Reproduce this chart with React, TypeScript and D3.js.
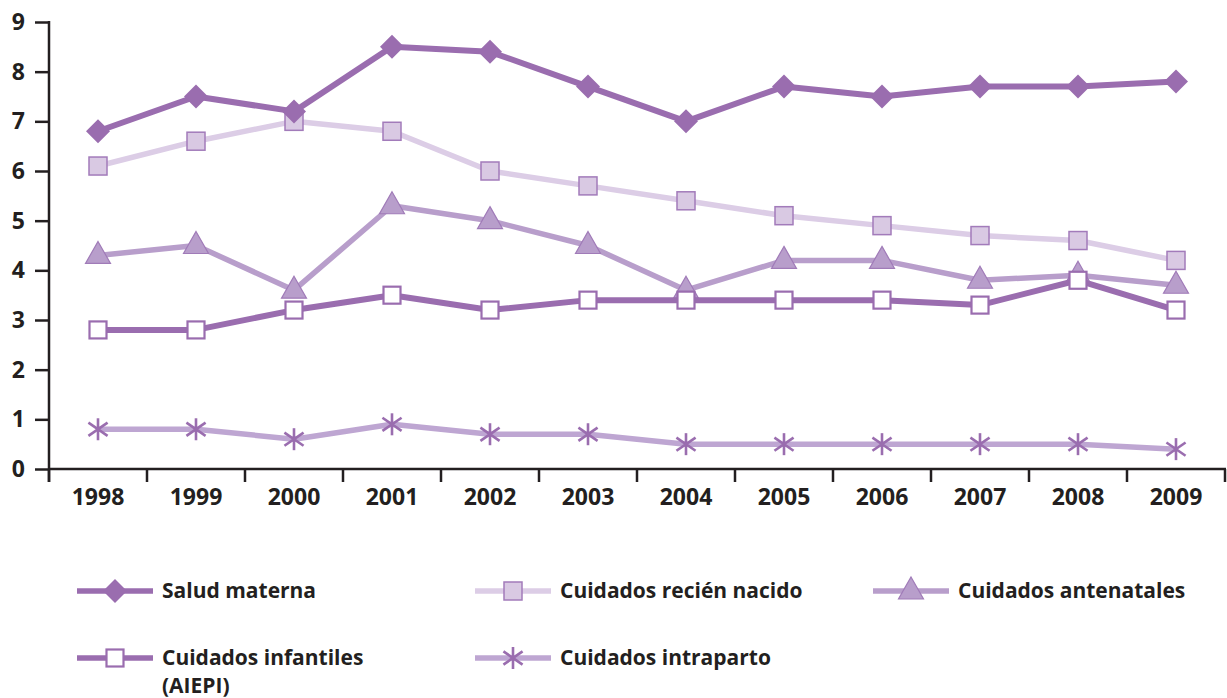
import * as d3 from "d3";
import { useEffect, useRef } from "react";

const years = ["1998", "1999", "2000", "2001", "2002", "2003", "2004", "2005", "2006", "2007", "2008", "2009"];
const saludMaterna = [6.8, 7.5, 7.2, 8.5, 8.4, 7.7, 7.0, 7.7, 7.5, 7.7, 7.7, 7.8];
const recienNacido = [6.1, 6.6, 7.0, 6.8, 6.0, 5.7, 5.4, 5.1, 4.9, 4.7, 4.6, 4.2];
const antenatales = [4.3, 4.5, 3.6, 5.3, 5.0, 4.5, 3.6, 4.2, 4.2, 3.8, 3.9, 3.7];
const infantiles = [2.8, 2.8, 3.2, 3.5, 3.2, 3.4, 3.4, 3.4, 3.4, 3.3, 3.8, 3.2];
const intraparto = [0.8, 0.8, 0.6, 0.9, 0.7, 0.7, 0.5, 0.5, 0.5, 0.5, 0.5, 0.4];
const yTicks = [0, 1, 2, 3, 4, 5, 6, 7, 8, 9];

type Marker = "diamond" | "square" | "triangle" | "hollow" | "star";
type Series = {
  name: string[];
  values: number[];
  line: string;
  width: number;
  marker: Marker;
  fill: string;
  stroke: string;
};

const DARK = "#9a6daf";

const seriesList: Series[] = [
  { name: ["Cuidados intraparto"], values: intraparto, line: "#bea6d2", width: 5.5, marker: "star", fill: "none", stroke: DARK },
  { name: ["Cuidados recién nacido"], values: recienNacido, line: "#dccde6", width: 5.5, marker: "square", fill: "#d9c9e3", stroke: "#a27bba" },
  { name: ["Cuidados antenatales"], values: antenatales, line: "#b89ecb", width: 5.5, marker: "triangle", fill: "#b89ecb", stroke: "#a07bb8" },
  { name: ["Cuidados infantiles", "(AIEPI)"], values: infantiles, line: DARK, width: 6, marker: "hollow", fill: "#fff", stroke: DARK },
  { name: ["Salud materna"], values: saludMaterna, line: DARK, width: 6, marker: "diamond", fill: DARK, stroke: DARK },
];

// legend order / slots
const legendOrder = ["Salud materna", "Cuidados recién nacido", "Cuidados antenatales", "Cuidados infantiles", "Cuidados intraparto"];
const legendSlots = [
  { x: 77, y: 591 },
  { x: 475, y: 591 },
  { x: 873, y: 591 },
  { x: 77, y: 658 },
  { x: 475, y: 658 },
];

function drawMarker(g: d3.Selection<SVGGElement, unknown, null, undefined>, s: Series, cx: number, cy: number) {
  if (s.marker === "diamond") {
    g.append("path")
      .attr("d", `M${cx},${cy - 12}L${cx + 12},${cy}L${cx},${cy + 12}L${cx - 12},${cy}Z`)
      .attr("fill", s.fill);
  } else if (s.marker === "square" || s.marker === "hollow") {
    const h = s.marker === "square" ? 9 : 8.5;
    g.append("rect")
      .attr("x", cx - h).attr("y", cy - h).attr("width", h * 2).attr("height", h * 2)
      .attr("fill", s.fill).attr("stroke", s.stroke).attr("stroke-width", s.marker === "hollow" ? 2.2 : 1.5);
  } else if (s.marker === "triangle") {
    g.append("path")
      .attr("d", `M${cx},${cy - 14}L${cx + 12.5},${cy + 8}L${cx - 12.5},${cy + 8}Z`)
      .attr("fill", s.fill).attr("stroke", s.stroke).attr("stroke-width", 1.2);
  } else {
    const r = 11;
    const p = g.append("g").attr("stroke", s.stroke).attr("stroke-width", 2.6);
    p.append("line").attr("x1", cx).attr("y1", cy - r).attr("x2", cx).attr("y2", cy + r);
    p.append("line").attr("x1", cx - r * 0.87).attr("y1", cy - r * 0.6).attr("x2", cx + r * 0.87).attr("y2", cy + r * 0.6);
    p.append("line").attr("x1", cx - r * 0.87).attr("y1", cy + r * 0.6).attr("x2", cx + r * 0.87).attr("y2", cy - r * 0.6);
  }
}

export default function App() {
  const svgRef = useRef<SVGSVGElement>(null);
  const width = 1227;
  const height = 698;

  useEffect(() => {
    const svg = d3.select(svgRef.current);
    svg.selectAll("*").remove();

    const x = d3.scaleBand().domain(years).range([49, 1225]);
    const y = d3.scaleLinear().domain([0, 9]).range([469, 22]);
    const cx = (i: number) => x(years[i])! + x.bandwidth() / 2;

    const font = "'Open Sans', sans-serif";

    // y axis
    const gy = svg.append("g").attr("transform", "translate(49,0)");
    gy.call(d3.axisLeft(y).tickValues(yTicks).tickSize(14).tickPadding(10).tickFormat(d3.format("d")) as any);
    gy.select(".domain").remove();
    gy.selectAll(".tick line").attr("stroke", "#231f20").attr("stroke-width", 2.5);
    gy.selectAll(".tick text").attr("font-family", font).attr("font-weight", 700).attr("font-size", 23).attr("fill", "#231f20");
    svg.append("line").attr("x1", 49).attr("x2", 49).attr("y1", 21).attr("y2", 482).attr("stroke", "#231f20").attr("stroke-width", 2.5);

    // x axis
    const gx = svg.append("g").attr("transform", "translate(0,469)");
    gx.append("line").attr("x1", 48).attr("x2", 1226).attr("stroke", "#231f20").attr("stroke-width", 2.5);
    const bounds = years.map((yr) => x(yr)!).concat([x.range()[1]]);
    gx.selectAll("line.sep").data(bounds).enter().append("line")
      .attr("x1", (d) => d).attr("x2", (d) => d).attr("y1", 0).attr("y2", 13)
      .attr("stroke", "#231f20").attr("stroke-width", 2.5);
    gx.selectAll("text").data(years).enter().append("text")
      .attr("x", (d) => x(d)! + x.bandwidth() / 2).attr("y", 36)
      .attr("text-anchor", "middle").attr("font-family", font).attr("font-weight", 700)
      .attr("font-size", 23).attr("fill", "#231f20").text((d) => d);

    // lines + markers
    const line = d3.line<number>().x((_, i) => cx(i)).y((d) => y(d));
    seriesList.forEach((s) => {
      const g = svg.append("g");
      g.append("path").attr("d", line(s.values)!).attr("fill", "none")
        .attr("stroke", s.line).attr("stroke-width", s.width).attr("stroke-linejoin", "round");
      s.values.forEach((v, i) => drawMarker(g as any, s, cx(i), y(v)));
    });

    // legend
    legendOrder.forEach((nm, k) => {
      const s = seriesList.find((d) => d.name[0] === nm)!;
      const { x: lx, y: ly } = legendSlots[k];
      const g = svg.append("g");
      g.append("line").attr("x1", lx).attr("x2", lx + 76).attr("y1", ly).attr("y2", ly)
        .attr("stroke", s.line).attr("stroke-width", 5.5);
      drawMarker(g as any, s, lx + 38, ly);
      s.name.forEach((t, j) => {
        g.append("text").attr("x", lx + 85).attr("y", ly + 7 + j * 28)
          .attr("font-family", font).attr("font-weight", 700).attr("font-size", 21)
          .attr("fill", "#231f20").text(t);
      });
    });
  }, []);

  return (
    <svg ref={svgRef} width={width} height={height}
      style={{ position: "absolute", left: 0, top: 0, background: "#fff" }} />
  );
}
